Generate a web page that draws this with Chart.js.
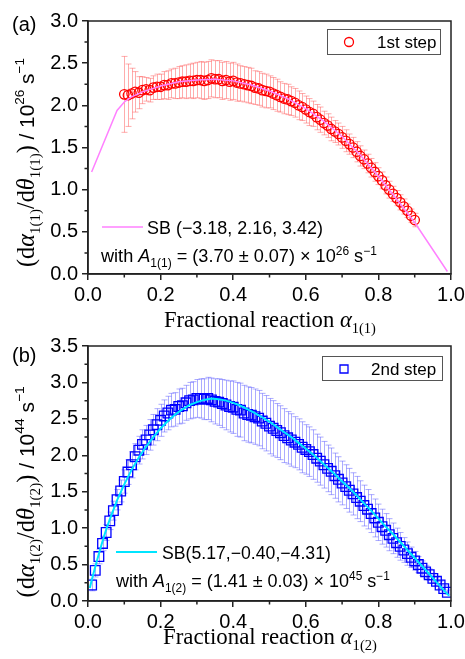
<!DOCTYPE html>
<html><head><meta charset="utf-8">
<script src="https://cdn.jsdelivr.net/npm/chart.js@4.4.1/dist/chart.umd.min.js"></script>
<style>
html,body{margin:0;padding:0;background:#fff;}
#wrap{position:relative;width:465px;height:659px;overflow:hidden;background:#fff;}
canvas{position:absolute;left:0;}
</style></head><body>
<div id="wrap">
<canvas id="ca" width="465" height="345" style="top:0px"></canvas>
<canvas id="cb" width="465" height="329" style="top:330px"></canvas>
</div>
<script>
// ---------- tick labels ----------
const xTickValues = [0, 0.2, 0.4, 0.6, 0.8, 1.0];
const xTickLabels = ['0.0', '0.2', '0.4', '0.6', '0.8', '1.0'];
const yTickValuesA = [0, 0.5, 1.0, 1.5, 2.0, 2.5, 3.0];
const yTickLabelsA = ['0.0', '0.5', '1.0', '1.5', '2.0', '2.5', '3.0'];
const yTickValuesB = [0, 0.5, 1.0, 1.5, 2.0, 2.5, 3.0, 3.5];
const yTickLabelsB = ['0.0', '0.5', '1.0', '1.5', '2.0', '2.5', '3.0', '3.5'];
const xMinorTicks = [0.1, 0.3, 0.5, 0.7, 0.9];
const yMinorTicksA = [0.25, 0.75, 1.25, 1.75, 2.25, 2.75];
const yMinorTicksB = [0.25, 0.75, 1.25, 1.75, 2.25, 2.75, 3.25];

// ---------- panel (a): 1st step ----------
const alphaStep1 = [0.10,0.11,0.12,0.13,0.14,0.15,0.16,0.17,0.18,0.19,
 0.20,0.21,0.22,0.23,0.24,0.25,0.26,0.27,0.28,0.29,
 0.30,0.31,0.32,0.33,0.34,0.35,0.36,0.37,0.38,0.39,
 0.40,0.41,0.42,0.43,0.44,0.45,0.46,0.47,0.48,0.49,
 0.50,0.51,0.52,0.53,0.54,0.55,0.56,0.57,0.58,0.59,
 0.60,0.61,0.62,0.63,0.64,0.65,0.66,0.67,0.68,0.69,
 0.70,0.71,0.72,0.73,0.74,0.75,0.76,0.77,0.78,0.79,
 0.80,0.81,0.82,0.83,0.84,0.85,0.86,0.87,0.88,0.89,
 0.90];
const rateStep1 = [2.13,2.12,2.14,2.16,2.15,2.18,2.19,2.18,2.21,2.22,
 2.22,2.24,2.24,2.26,2.26,2.27,2.28,2.28,2.29,2.29,
 2.30,2.30,2.29,2.30,2.32,2.31,2.31,2.29,2.30,2.28,
 2.29,2.27,2.26,2.25,2.24,2.23,2.21,2.20,2.18,2.17,
 2.16,2.14,2.12,2.10,2.08,2.07,2.05,2.03,2.00,1.98,
 1.95,1.92,1.90,1.86,1.83,1.79,1.76,1.72,1.69,1.66,
 1.62,1.58,1.54,1.50,1.45,1.40,1.36,1.31,1.26,1.21,
 1.16,1.11,1.05,1.00,0.95,0.90,0.85,0.80,0.75,0.69,
 0.64];
const errStep1 = [0.45,0.37,0.30,0.24,0.19,0.16,0.14,0.14,0.14,0.15,
 0.15,0.16,0.17,0.17,0.18,0.19,0.19,0.20,0.20,0.21,
 0.21,0.22,0.22,0.22,0.22,0.22,0.22,0.22,0.22,0.22,
 0.22,0.22,0.21,0.21,0.21,0.21,0.20,0.20,0.20,0.20,
 0.19,0.19,0.19,0.18,0.18,0.18,0.17,0.17,0.17,0.16,
 0.16,0.16,0.15,0.15,0.15,0.14,0.14,0.14,0.13,0.13,
 0.13,0.13,0.12,0.12,0.12,0.12,0.11,0.11,0.11,0.11,
 0.10,0.10,0.10,0.10,0.09,0.09,0.09,0.09,0.08,0.08,
 0.08];
const fitAlpha1 = [0.01,0.08,0.10,0.12,0.15,0.20,0.25,0.30,0.35,0.40,0.45,0.50,0.55,0.60,0.65,0.70,0.75,0.80,0.85,0.90,0.99];
const fitRate1  = [1.21,1.94,2.04,2.10,2.16,2.23,2.28,2.30,2.31,2.29,2.24,2.17,2.08,1.96,1.81,1.63,1.41,1.16,0.89,0.61,0.03];

// ---------- panel (b): 2nd step ----------
const alphaStep2 = [0.01,0.02,0.03,0.04,0.05,0.06,0.07,0.08,0.09,0.10,
 0.11,0.12,0.13,0.14,0.15,0.16,0.17,0.18,0.19,0.20,
 0.21,0.22,0.23,0.24,0.25,0.26,0.27,0.28,0.29,0.30,
 0.31,0.32,0.33,0.34,0.35,0.36,0.37,0.38,0.39,0.40,
 0.41,0.42,0.43,0.44,0.45,0.46,0.47,0.48,0.49,0.50,
 0.51,0.52,0.53,0.54,0.55,0.56,0.57,0.58,0.59,0.60,
 0.61,0.62,0.63,0.64,0.65,0.66,0.67,0.68,0.69,0.70,
 0.71,0.72,0.73,0.74,0.75,0.76,0.77,0.78,0.79,0.80,
 0.81,0.82,0.83,0.84,0.85,0.86,0.87,0.88,0.89,0.90,
 0.91,0.92,0.93,0.94,0.95,0.96,0.97,0.98,0.99];
const rateStep2 = [0.22,0.42,0.61,0.79,0.94,1.10,1.24,1.39,1.51,1.64,
 1.77,1.87,1.98,2.07,2.15,2.21,2.28,2.35,2.42,2.48,
 2.54,2.58,2.62,2.63,2.67,2.68,2.72,2.75,2.76,2.78,
 2.78,2.77,2.78,2.76,2.74,2.73,2.71,2.69,2.67,2.66,
 2.63,2.62,2.58,2.56,2.55,2.53,2.51,2.47,2.44,2.40,
 2.37,2.34,2.31,2.27,2.24,2.21,2.18,2.15,2.11,2.08,
 2.05,2.01,1.96,1.92,1.87,1.82,1.78,1.72,1.67,1.62,
 1.57,1.52,1.47,1.42,1.37,1.31,1.26,1.20,1.14,1.08,
 1.02,0.97,0.91,0.86,0.80,0.75,0.70,0.65,0.60,0.55,
 0.50,0.45,0.40,0.36,0.31,0.27,0.22,0.17,0.12];
const errStep2 = [0.08,0.09,0.10,0.10,0.11,0.12,0.13,0.14,0.15,0.16,
 0.17,0.18,0.18,0.19,0.20,0.20,0.21,0.21,0.22,0.22,
 0.22,0.23,0.23,0.23,0.24,0.24,0.24,0.25,0.25,0.26,
 0.27,0.28,0.29,0.30,0.31,0.32,0.33,0.34,0.35,0.36,
 0.37,0.37,0.38,0.38,0.38,0.38,0.38,0.38,0.38,0.38,
 0.38,0.37,0.37,0.37,0.36,0.36,0.35,0.35,0.35,0.34,
 0.34,0.34,0.33,0.33,0.32,0.32,0.32,0.31,0.31,0.30,
 0.30,0.30,0.29,0.29,0.28,0.28,0.27,0.26,0.26,0.25,
 0.24,0.23,0.22,0.21,0.20,0.19,0.17,0.16,0.14,0.13,
 0.11,0.10,0.09,0.08,0.07,0.06,0.05,0.04,0.03];
const fitAlpha2 = [0.005,0.01,0.02,0.03,0.04,0.05,0.06,0.08,0.10,0.12,0.14,0.16,0.18,0.20,0.22,0.24,0.26,0.28,0.30,0.32,0.34,0.36,0.38,0.40,0.42,0.44,0.46,0.48,0.50,0.52,0.54,0.56,0.58,0.60,0.62,0.64,0.66,0.68,0.70,0.72,0.74,0.76,0.78,0.80,0.82,0.84,0.86,0.88,0.90,0.92,0.94,0.96,0.98,0.995];
const fitRate2  = [0.18,0.28,0.47,0.65,0.82,0.98,1.12,1.38,1.60,1.80,1.97,2.12,2.25,2.37,2.47,2.56,2.63,2.69,2.73,2.76,2.78,2.77,2.75,2.72,2.68,2.63,2.58,2.52,2.46,2.39,2.32,2.25,2.17,2.09,2.01,1.92,1.83,1.74,1.64,1.55,1.45,1.34,1.24,1.13,1.02,0.92,0.81,0.70,0.59,0.48,0.37,0.26,0.15,0.07];

// ---------- drawing helpers ----------
const SERIF = '"Liberation Serif","Times New Roman",serif';
const SANS = '"Liberation Sans",Arial,sans-serif';
function fnt(it, size, fam) { return (it ? 'italic ' : '') + size.toFixed(2) + 'px ' + fam; }
function drawRich(ctx, segs, x, y, opts) {
  const measure = (b) => { let w = 0; for (const s of segs) { ctx.font = fnt(s.it, b * (s.r || 1), s.fam); w += ctx.measureText(s.t).width; } return w; };
  let b = opts.size || 20;
  if (opts.width) b = 20 * opts.width / measure(20);
  const w = measure(b);
  let cx = opts.align === 'center' ? x - w / 2 : x;
  ctx.textAlign = 'left'; ctx.textBaseline = 'alphabetic';
  for (const s of segs) {
    ctx.font = fnt(s.it, b * (s.r || 1), s.fam);
    ctx.fillText(s.t, cx, y + (s.dy || 0) * b);
    cx += ctx.measureText(s.t).width;
  }
}
function yTitleSegs(sub, exp) {
  return [
    {t: '(d', fam: SERIF}, {t: 'α', fam: SERIF, it: true}, {t: sub, fam: SERIF, r: 0.62, dy: 0.25},
    {t: '/d', fam: SERIF}, {t: 'θ', fam: SERIF, it: true}, {t: sub, fam: SERIF, r: 0.62, dy: 0.25},
    {t: ')', fam: SERIF}, {t: ' / 10', fam: SANS, r: 0.86}, {t: exp, fam: SANS, r: 0.56, dy: -0.42},
    {t: ' s', fam: SANS, r: 0.86}, {t: '−1', fam: SANS, r: 0.56, dy: -0.42}
  ];
}
function xTitleSegs(sub) {
  return [{t: 'Fractional reaction ', fam: SERIF}, {t: 'α', fam: SERIF, it: true}, {t: sub, fam: SERIF, r: 0.64, dy: 0.28}];
}
function withSegs(sub, val, exp) {
  return [{t: 'with ', fam: SANS}, {t: 'A', fam: SANS, it: true}, {t: sub, fam: SANS, r: 0.66, dy: 0.28},
    {t: ' = (' + val + ') × 10', fam: SANS}, {t: exp, fam: SANS, r: 0.66, dy: -0.38},
    {t: ' s', fam: SANS}, {t: '−1', fam: SANS, r: 0.66, dy: -0.38}];
}

function decorPlugin(o) {
  return {
    id: 'decor' + o.id,
    beforeDatasetsDraw(chart) {
      const ctx = chart.ctx, xs = chart.scales.x, ys = chart.scales.y;
      ctx.save();
      ctx.strokeStyle = o.errColor; ctx.lineWidth = 1;
      for (let i = 0; i < o.x.length; i++) {
        const px = Math.round(xs.getPixelForValue(o.x[i])) + 0.5;
        const t = ys.getPixelForValue(o.y[i] + o.e[i]);
        const b = ys.getPixelForValue(o.y[i] - o.e[i]);
        ctx.beginPath();
        ctx.moveTo(px, t); ctx.lineTo(px, b);
        ctx.moveTo(px - 3, t); ctx.lineTo(px + 3, t);
        ctx.moveTo(px - 3, b); ctx.lineTo(px + 3, b);
        ctx.stroke();
      }
      ctx.restore();
    },
    afterDraw(chart) {
      const ctx = chart.ctx, a = chart.chartArea, xs = chart.scales.x, ys = chart.scales.y;
      ctx.save();
      ctx.strokeStyle = '#222'; ctx.lineWidth = 1.5;
      ctx.strokeRect(a.left, a.top, a.right - a.left, a.bottom - a.top);
      ctx.beginPath();
      for (const v of xMinorTicks) { const p = xs.getPixelForValue(v); ctx.moveTo(p, a.bottom); ctx.lineTo(p, a.bottom + 3.5); }
      for (const v of o.yMinor) { const p = ys.getPixelForValue(v); ctx.moveTo(a.left, p); ctx.lineTo(a.left - 3.5, p); }
      ctx.stroke();
      ctx.fillStyle = '#000';
      ctx.font = '20px ' + SANS; ctx.textAlign = 'left'; ctx.textBaseline = 'alphabetic';
      ctx.fillText(o.panel, 12, o.panelY);
      ctx.save(); ctx.translate(o.yTitleX, o.yTitleY); ctx.rotate(-Math.PI / 2);
      drawRich(ctx, o.yTitle, 0, 0, {width: o.yTitleW, align: 'center'});
      ctx.restore();
      drawRich(ctx, o.xTitle, o.xTitleX, o.xTitleY, {width: o.xTitleW});
      const L = o.legend;
      ctx.strokeStyle = '#555'; ctx.lineWidth = 1;
      ctx.strokeRect(L.x + 0.5, L.y + 0.5, L.w, L.h);
      ctx.strokeStyle = o.color; ctx.lineWidth = 1.3;
      ctx.beginPath();
      if (o.pointStyle === 'circle') ctx.arc(L.mx, L.my, 4.5, 0, Math.PI * 2);
      else ctx.rect(L.mx - 4, L.my - 4, 8, 8);
      ctx.stroke();
      ctx.fillStyle = '#000'; ctx.font = '17px ' + SANS; ctx.textBaseline = 'middle';
      ctx.fillText(L.text, L.tx, L.my + 1);
      const N = o.note;
      ctx.strokeStyle = o.fitColor; ctx.lineWidth = o.fitWidth;
      ctx.beginPath(); ctx.moveTo(N.lx1, N.ly); ctx.lineTo(N.lx2, N.ly); ctx.stroke();
      ctx.fillStyle = '#000';
      drawRich(ctx, [{t: N.sb, fam: SANS}], N.tx, N.ty, {width: N.tw});
      drawRich(ctx, N.withSegs, N.wx, N.wy, {width: N.ww});
      ctx.restore();
    }
  };
}

function buildChart(o) {
  const el = document.getElementById(o.id);
  return new Chart(el.getContext('2d'), {
    type: 'scatter',
    data: {
      datasets: [
        {data: o.fitX.map((x, i) => ({x: x, y: o.fitY[i]})), showLine: true, borderColor: o.fitColor,
          borderWidth: o.fitWidth, pointRadius: 0, fill: false, tension: 0},
        {data: o.x.map((x, i) => ({x: x, y: o.y[i]})), showLine: false, pointStyle: o.pointStyle,
          pointRadius: o.pointRadius, borderColor: o.color, backgroundColor: 'rgba(0,0,0,0)',
          pointBorderWidth: 1.3, pointBackgroundColor: 'rgba(0,0,0,0)', pointBorderColor: o.color}
      ]
    },
    options: {
      responsive: false, animation: false, devicePixelRatio: 1,
      layout: {padding: {left: 0, right: 14, top: o.top, bottom: 0}},
      plugins: {legend: {display: false}, tooltip: {enabled: false}},
      events: [],
      scales: {
        x: {
          type: 'linear', min: 0, max: 1,
          afterBuildTicks: s => { s.ticks = xTickValues.map(v => ({value: v})); },
          ticks: {callback: (v, i) => xTickLabels[i], font: {family: SANS, size: 20}, color: '#000', padding: 3, maxRotation: 0, autoSkip: false},
          grid: {drawOnChartArea: false, drawTicks: true, tickLength: 6, color: '#222', lineWidth: 1.5},
          border: {color: '#222', width: 1.5},
          afterFit: s => { s.height = o.xAxisH; s.paddingLeft = 0; s.paddingRight = 0; }
        },
        y: {
          type: 'linear', min: 0, max: o.yMax,
          afterBuildTicks: s => { s.ticks = o.yTicks.map(v => ({value: v})); },
          ticks: {callback: (v, i) => o.yLabels[i], font: {family: SANS, size: 20}, color: '#000', padding: 4, autoSkip: false},
          grid: {drawOnChartArea: false, drawTicks: true, tickLength: 6, color: '#222', lineWidth: 1.5},
          border: {color: '#222', width: 1.5},
          afterFit: s => { s.width = 88; s.paddingTop = 0; s.paddingBottom = 0; }
        }
      }
    },
    plugins: [decorPlugin(o)]
  });
}

buildChart({
  id: 'ca', top: 21, xAxisH: 71, yMax: 3.0, yTicks: yTickValuesA, yLabels: yTickLabelsA, yMinor: yMinorTicksA,
  x: alphaStep1, y: rateStep1, e: errStep1, fitX: fitAlpha1, fitY: fitRate1,
  color: '#ff0000', errColor: 'rgba(255,70,70,0.45)', fitColor: '#ff80ff', fitWidth: 1.5,
  pointStyle: 'circle', pointRadius: 4.7,
  panel: '(a)', panelY: 31,
  yTitle: yTitleSegs('1(1)', '26'), yTitleX: 34, yTitleY: 162.5, yTitleW: 209,
  xTitle: xTitleSegs('1(1)'), xTitleX: 164, xTitleY: 327, xTitleW: 212,
  legend: {x: 327, y: 29, w: 113, h: 25, mx: 349, my: 42, tx: 377, text: '1st step'},
  note: {lx1: 102, lx2: 143, ly: 227, sb: 'SB (−3.18, 2.16, 3.42)', tx: 147, ty: 233.5, tw: 176,
    withSegs: withSegs('1(1)', '3.70 ± 0.07', '26'), wx: 101, wy: 261.5, ww: 276}
});
buildChart({
  id: 'cb', top: 16, xAxisH: 58, yMax: 3.5, yTicks: yTickValuesB, yLabels: yTickLabelsB, yMinor: yMinorTicksB,
  x: alphaStep2, y: rateStep2, e: errStep2, fitX: fitAlpha2, fitY: fitRate2,
  color: '#0000ff', errColor: 'rgba(90,90,255,0.5)', fitColor: '#00e5ff', fitWidth: 2,
  pointStyle: 'rect', pointRadius: 6.8,
  panel: '(b)', panelY: 32,
  yTitle: yTitleSegs('1(2)', '44'), yTitleX: 34, yTitleY: 162, yTitleW: 211,
  xTitle: xTitleSegs('1(2)'), xTitleX: 163, xTitleY: 313.5, xTitleW: 214,
  legend: {x: 322, y: 26, w: 120, h: 24, mx: 344, my: 39, tx: 371, text: '2nd step'},
  note: {lx1: 116, lx2: 157, ly: 222, sb: 'SB(5.17,−0.40,−4.31)', tx: 162, ty: 228.5, tw: 169,
    withSegs: withSegs('1(2)', '1.41 ± 0.03', '45'), wx: 116, wy: 256.5, ww: 274}
});
</script>
</body></html>
